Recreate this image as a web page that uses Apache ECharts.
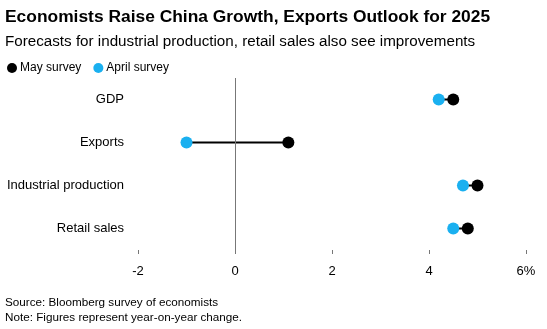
<!DOCTYPE html>
<html><head><meta charset="utf-8">
<script src="https://cdn.jsdelivr.net/npm/echarts@6/dist/echarts.min.js"></script>
<style>html,body{margin:0;padding:0;background:#fff}#c{width:547px;height:329px}</style>
</head><body><div id="c"></div>
<script>
const categories = ['GDP', 'Exports', 'Industrial production', 'Retail sales'];
const maySurvey = [4.5, 1.1, 5.0, 4.8];
const aprilSurvey = [4.2, -1.0, 4.7, 4.5];
const xTicks = [-2, 0, 2, 4, 6];

const FONT = '"Liberation Sans", Arial, Helvetica, sans-serif';
const chart = echarts.init(document.getElementById('c'));
chart.setOption({
  animation: false,
  textStyle: { fontFamily: FONT },
  title: [
    { text: 'Economists Raise China Growth, Exports Outlook for 2025', left: 5, top: 9, padding: 0,
      textStyle: { fontSize: 17.4, fontWeight: 'bold', color: '#000', fontFamily: FONT } },
    { text: 'Forecasts for industrial production, retail sales also see improvements', left: 5, top: 34, padding: 0,
      textStyle: { fontSize: 15.2, fontWeight: 'normal', color: '#000', fontFamily: FONT } },
    { text: 'Source: Bloomberg survey of economists\nNote: Figures represent year-on-year change.', left: 5, top: 295, padding: 0,
      textStyle: { fontSize: 11.7, fontWeight: 'normal', color: '#000', lineHeight: 15, fontFamily: FONT } }
  ],
  legend: {
    left: 2, top: 57, itemWidth: 10, itemHeight: 10, itemGap: 12,
    icon: 'circle',
    textStyle: { fontSize: 12, color: '#000', fontFamily: FONT, padding: [0, 0, 0, -2] },
    data: ['May survey', 'April survey']
  },
  grid: { left: 138, right: 21, top: 78, bottom: 79 },
  xAxis: {
    type: 'value', min: -2, max: 6, interval: 2,
    axisLine: { show: false },
    axisTick: { show: true, length: 4, lineStyle: { color: '#777' } },
    splitLine: { show: false },
    axisLabel: { color: '#000', fontSize: 13, margin: 15, fontFamily: FONT,
      formatter: v => (v === xTicks[xTicks.length - 1] ? v + '%' : String(v)) }
  },
  yAxis: {
    type: 'category', data: categories, inverse: true,
    axisLine: { show: false }, axisTick: { show: false },
    axisLabel: { color: '#000', fontSize: 13, margin: 14, fontFamily: FONT }
  },
  series: [
    {
      type: 'custom', name: 'connector', silent: true, z: 1,
      data: categories.map((c, i) => [i, aprilSurvey[i], maySurvey[i]]),
      renderItem: (params, api) => {
        const p1 = api.coord([api.value(1), api.value(0)]);
        const p2 = api.coord([api.value(2), api.value(0)]);
        return { type: 'line', shape: { x1: p1[0], y1: p1[1], x2: p2[0], y2: p2[1] },
          style: { stroke: '#000', lineWidth: 2 } };
      },
      markLine: {
        silent: true, symbol: 'none', label: { show: false },
        lineStyle: { color: '#777', width: 1, type: 'solid' },
        data: [{ xAxis: 0 }]
      }
    },
    {
      type: 'scatter', name: 'April survey', symbol: 'circle', symbolSize: 12, z: 3,
      itemStyle: { color: '#1ab0f0', opacity: 1 },
      data: aprilSurvey.map((v, i) => [v, categories[i]])
    },
    {
      type: 'scatter', name: 'May survey', symbol: 'circle', symbolSize: 12, z: 4,
      itemStyle: { color: '#000', opacity: 1 },
      data: maySurvey.map((v, i) => [v, categories[i]])
    }
  ]
});
</script></body></html>
